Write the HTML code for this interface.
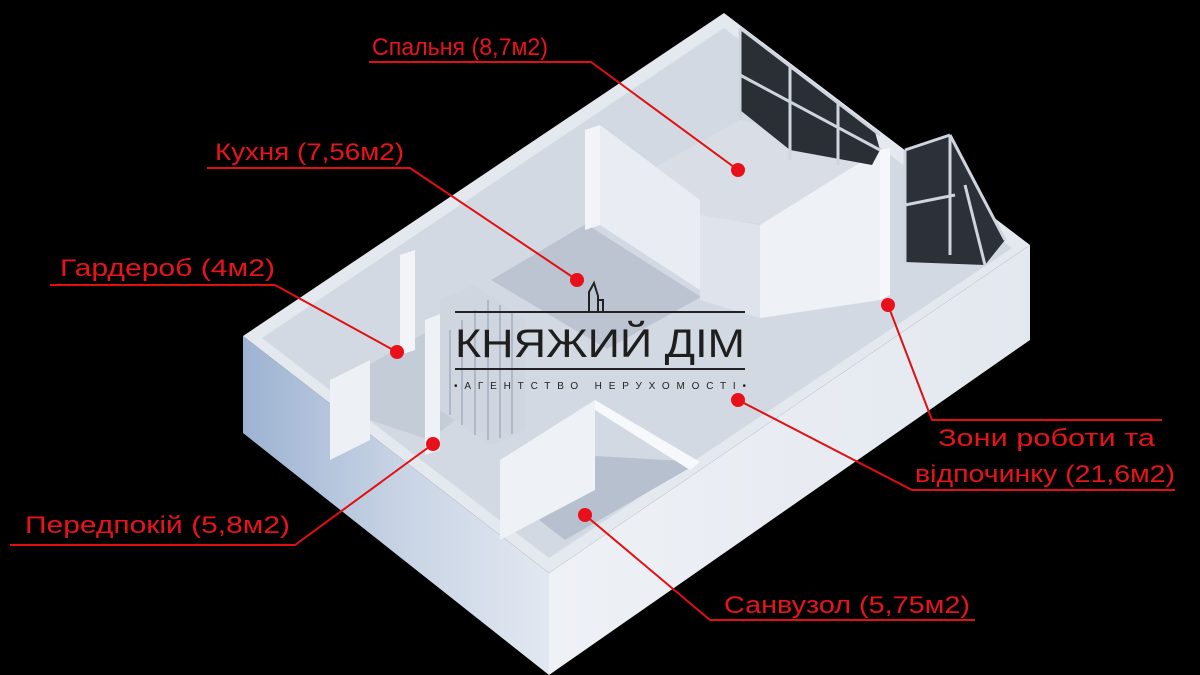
<!DOCTYPE html>
<html><head><meta charset="utf-8"><style>
html,body{margin:0;padding:0;background:#000;}
svg{display:block}
text{font-family:"Liberation Sans","DejaVu Sans",sans-serif;}
</style></head><body>
<svg width="1200" height="675" viewBox="0 0 1200 675" xmlns="http://www.w3.org/2000/svg">
<defs>
<linearGradient id="lf" x1="0" y1="0" x2="1" y2="0">
<stop offset="0" stop-color="#9db3d2"/><stop offset="0.5" stop-color="#c7d3e4"/><stop offset="1" stop-color="#e2e8f1"/>
</linearGradient>
<linearGradient id="rf" x1="0" y1="0" x2="1" y2="0">
<stop offset="0" stop-color="#eef1f6"/><stop offset="1" stop-color="#e3e8ef"/>
</linearGradient>
</defs>
<rect width="1200" height="675" fill="#000"/>
<!-- outer faces -->
<polygon points="243,336 549,573 549,675 243,433" fill="url(#lf)"/>
<polygon points="549,573 1030,245 1030,340 549,675" fill="url(#rf)"/>
<!-- top area -->
<polygon points="724,13 1030,245 549,573 243,336" fill="#e4e8ef"/>
<!-- interior floor -->
<polygon points="724,28 1012,248 549,558 262,338" fill="#d3d9e3"/>
<!-- kitchen floor -->
<polygon points="491,280 586,224 701,297 607,349" fill="#bcc4d1"/>
<!-- bedroom floor -->
<polygon points="650,170 740,120 880,150 770,225 690,215" fill="#d8dde6"/>
<!-- bathroom floor -->
<polygon points="512,499 596,456 700,462 565,540" fill="#b7c0ce"/>
<!-- hallway floor -->
<polygon points="360,370 430,330 480,400 430,440 370,420" fill="#c4ccd8"/>
<!-- interior walls -->
<polygon points="585,130 600,125 600,225 585,230" fill="#f2f4f8"/>
<polygon points="600,125 700,200 700,290 600,225" fill="#e9edf3"/>
<polygon points="760,225 880,150 880,300 760,318" fill="#eef1f6"/>
<polygon points="700,215 760,225 760,318 700,300" fill="#dfe4ec"/>
<polygon points="880,150 890,148 890,295 880,300" fill="#f5f7fa"/>
<polygon points="400,255 415,250 415,350 400,355" fill="#f2f4f8"/>
<polygon points="425,320 440,314 440,450 425,455" fill="#eef1f6"/>
<polygon points="500,460 595,400 595,490 500,540" fill="#eef1f6"/>
<polygon points="595,400 700,462 690,470 595,410" fill="#f7f8fb"/>
<polygon points="330,380 370,360 370,440 330,460" fill="#edf0f5"/>
<!-- grille -->
<polygon points="440,300 475,285 525,320 525,430 490,445 440,410" fill="#cfd6e0"/>
<g stroke="#aeb8c7" stroke-width="2">
<line x1="450" y1="330" x2="450" y2="415"/><line x1="462" y1="320" x2="462" y2="425"/><line x1="475" y1="310" x2="475" y2="435"/><line x1="488" y1="300" x2="488" y2="440"/><line x1="500" y1="305" x2="500" y2="438"/><line x1="512" y1="312" x2="512" y2="434"/>
</g>
<!-- glass windows -->
<polygon points="740,28 875,132 880,150 872,165 790,150 740,110" fill="#2a2e35"/>
<g stroke="#cfd5de" stroke-width="3">
<line x1="740" y1="28" x2="880" y2="135"/><line x1="740" y1="75" x2="880" y2="150"/>
<line x1="790" y1="65" x2="790" y2="160"/><line x1="838" y1="100" x2="838" y2="165"/>
<line x1="740" y1="28" x2="740" y2="120"/>
</g>
<polygon points="905,150 950,135 1005,240 985,265 905,262" fill="#2c3038"/>
<g stroke="#cfd5de" stroke-width="3">
<line x1="905" y1="150" x2="950" y2="135"/><line x1="950" y1="135" x2="950" y2="255"/>
<line x1="905" y1="205" x2="955" y2="195"/><line x1="950" y1="135" x2="1005" y2="240"/>
<line x1="905" y1="150" x2="905" y2="262"/><line x1="965" y1="185" x2="985" y2="265"/>
</g>
<!-- logo -->
<line x1="455" y1="312" x2="745" y2="312" stroke="#222" stroke-width="2"/>
<path d="M589,312 V292 L594,283 L598,296 V312 M598,300 H603 V312" fill="none" stroke="#222" stroke-width="2"/>
<text x="600" y="357" text-anchor="middle" font-size="40" fill="#1e1e1e" textLength="290" lengthAdjust="spacingAndGlyphs">КНЯЖИЙ ДІМ</text>
<line x1="455" y1="369" x2="745" y2="369" stroke="#222" stroke-width="2"/>
<text x="600" y="389" text-anchor="middle" font-size="10" fill="#222" textLength="292" lengthAdjust="spacing">•АГЕНТСТВО НЕРУХОМОСТІ•</text>
<!-- annotations -->
<g stroke="#e10f0f" stroke-width="2" fill="none">
<polyline points="369,62 591,62 738,170"/>
<polyline points="207,168 410,168 577,280"/>
<polyline points="50,285 275,285 397,352"/>
<polyline points="10,545 295,545 433,444"/>
<polyline points="975,620 710,620 585,515"/>
<polyline points="1162,420 932,420 888,305"/>
<polyline points="1175,490 912,490 738,400"/>
</g>
<g fill="#e8101a">
<circle cx="738" cy="170" r="7"/><circle cx="577" cy="280" r="7"/><circle cx="397" cy="352" r="7"/>
<circle cx="433" cy="444" r="7"/><circle cx="585" cy="515" r="7"/><circle cx="888" cy="305" r="7"/><circle cx="738" cy="400" r="7"/>
</g>
<g fill="#e8131b" font-size="24">
<text x="372" y="55" textLength="176" lengthAdjust="spacingAndGlyphs">Спальня (8,7м2)</text>
<text x="215" y="160" textLength="189" lengthAdjust="spacingAndGlyphs">Кухня (7,56м2)</text>
<text x="60" y="276" textLength="215" lengthAdjust="spacingAndGlyphs">Гардероб (4м2)</text>
<text x="25" y="533" textLength="265" lengthAdjust="spacingAndGlyphs">Передпокій (5,8м2)</text>
<text x="724" y="613" textLength="246" lengthAdjust="spacingAndGlyphs">Санвузол (5,75м2)</text>
<text x="938" y="446" textLength="217" lengthAdjust="spacingAndGlyphs">Зони роботи та</text>
<text x="915" y="482" textLength="260" lengthAdjust="spacingAndGlyphs">відпочинку (21,6м2)</text>
</g>
</svg>
</body></html>
